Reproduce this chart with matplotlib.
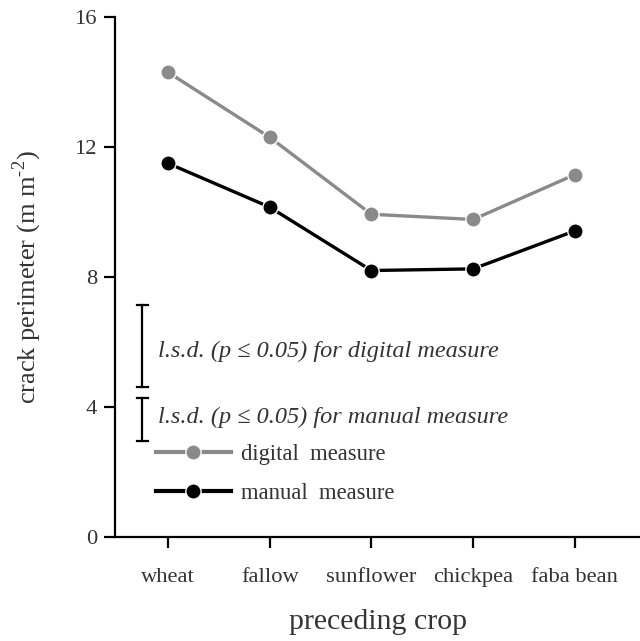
import matplotlib
matplotlib.use("Agg")
import matplotlib.pyplot as plt

crops = ["wheat", "fallow", "sunflower", "chickpea", "faba bean"]
digital = [14.3, 12.3, 9.93, 9.77, 11.15]
manual = [11.5, 10.15, 8.2, 8.25, 9.42]

# l.s.d. bars (bottom, top)
lsd_digital = (4.62, 7.14)
lsd_manual = (2.95, 4.28)

plt.rcParams['font.family'] = ['Liberation Serif', 'DejaVu Serif']
plt.rcParams['mathtext.fontset'] = 'custom'
plt.rcParams['mathtext.rm'] = 'Liberation Serif'

fig = plt.figure(figsize=(6.4, 6.41), dpi=100)
ax = fig.add_axes([0.1797, 0.1622, 0.8203, 0.8113])

x = list(range(len(crops)))
ax.plot(x, digital, color='#8a8a8a', lw=2.4, marker='o', markersize=11,
        markeredgecolor='white', markeredgewidth=1, label='digital  measure', zorder=3)
ax.plot(x, manual, color='black', lw=2.4, marker='o', markersize=11,
        markeredgecolor='white', markeredgewidth=1, label='manual  measure', zorder=3)

# l.s.d. error bars
bx = -0.25
for lo, hi in (lsd_digital, lsd_manual):
    ax.plot([bx, bx], [lo, hi], color='black', lw=1.6)
    for yy in (lo, hi):
        ax.plot([bx - 0.055, bx + 0.055], [yy, yy], color='black', lw=1.6)

txt = '#333333'
ax.text(-0.1, 5.72, 'l.s.d. (p \u2264 0.05) for digital measure',
        style='italic', fontsize=17.5, va='center', ha='left', color=txt)
ax.text(-0.1, 3.68, 'l.s.d. (p \u2264 0.05) for manual measure',
        style='italic', fontsize=17.5, va='center', ha='left', color=txt)

leg = ax.legend(loc='upper left', bbox_to_anchor=(0.078, 0.179), frameon=False,
                fontsize=16.3, handlelength=3.3, borderpad=0, borderaxespad=0,
                labelspacing=0.8, handletextpad=0.45)
for t in leg.get_texts():
    t.set_color(txt)
for h in leg.legend_handles:
    h.set_linewidth(3)

ax.set_xlim(-0.52, 4.64)
ax.set_ylim(0, 16)
ax.set_yticks([0, 4, 8, 12, 16])
ax.set_xticks(x)
ax.set_xticklabels(crops)

for s in ('top', 'right'):
    ax.spines[s].set_visible(False)
for s in ('left', 'bottom'):
    ax.spines[s].set_linewidth(1.6)

ax.tick_params(axis='both', direction='out', length=8, width=1.6, labelsize=16.2,
               color='black', labelcolor=txt)
ax.tick_params(axis='x', pad=14)
ax.tick_params(axis='y', pad=5)

ax.set_xlabel('preceding crop', fontsize=21.5, labelpad=16, color=txt)
ax.set_ylabel('crack perimeter (m m$^{\\text{-2}}$)', fontsize=19, labelpad=22,
              color=txt)

fig.savefig('out.png', dpi=100)
